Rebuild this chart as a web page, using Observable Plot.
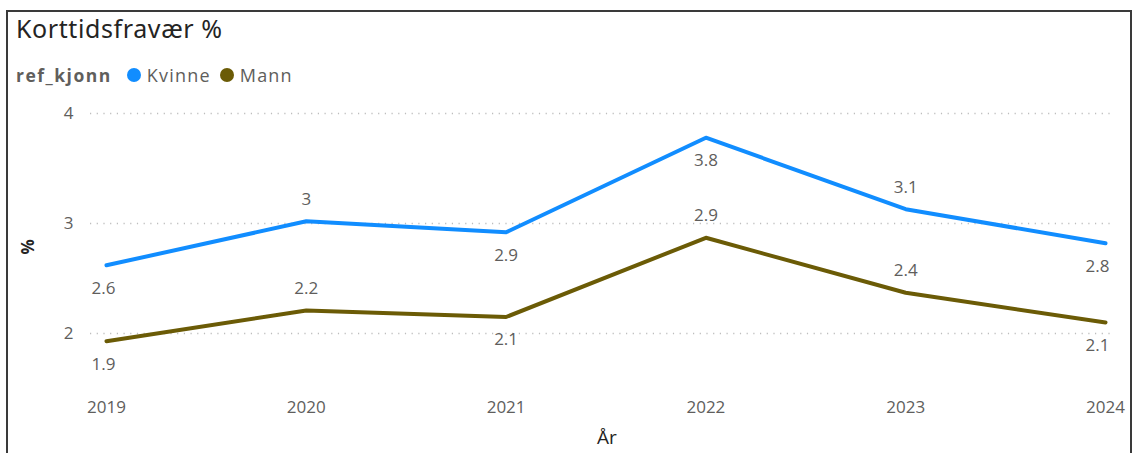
<!DOCTYPE html>
<html>
<head>
<meta charset="utf-8">
<script src="https://cdn.jsdelivr.net/npm/d3@7"></script>
<script src="https://cdn.jsdelivr.net/npm/@observablehq/plot@0.6"></script>
<style>
  html, body { margin: 0; padding: 0; background: #fff; }
  #wrap { position: relative; width: 1134px; height: 453px; overflow: hidden; font-family: "Open Sans", "Noto Sans", sans-serif; }
  #frame { position: absolute; left: 6px; top: 10px; width: 1126px; height: 460px; border: 2px solid #3a3a3a; box-sizing: border-box; }
  #title { position: absolute; left: 16px; top: 11px; font-size: 25px; letter-spacing: 0.6px; color: #252423; font-family: "Noto Sans", "Open Sans", sans-serif; }
  #legend { position: absolute; left: 16px; top: 63px; font-size: 18px; letter-spacing: 1.2px; color: #605E5C; display: flex; align-items: center; }
  #legend b { font-weight: 700; margin-right: 15px; color: #605E5C; font-size: 17.5px; letter-spacing: 1.5px; }
  .item { display: flex; align-items: center; margin-right: 9px; }
  .dot { width: 14px; height: 14px; border-radius: 50%; display: inline-block; margin-right: 6px; }
  #chart { position: absolute; left: 0; top: 90px; }
</style>
</head>
<body>
<div id="wrap">
  <div id="frame"></div>
  <div id="title">Korttidsfravær %</div>
  <div id="legend"></div>
  <div id="chart"></div>
</div>
<script>
const years = [2019, 2020, 2021, 2022, 2023, 2024];
const kvinne = [2.62, 3.02, 2.92, 3.78, 3.13, 2.82];
const mann = [1.93, 2.21, 2.15, 2.87, 2.37, 2.10];
const kvinneLabels = ["2.6", "3", "2.9", "3.8", "3.1", "2.8"];
const mannLabels = ["1.9", "2.2", "2.1", "2.9", "2.4", "2.1"];
const kvinneSide = ["below", "above", "below", "below", "above", "below"];
const mannSide = ["below", "above", "below", "above", "above", "below"];
const seriesNames = ["Kvinne", "Mann"];
const seriesColors = ["#118DFF", "#6B5B06"];
const yTicks = [2, 3, 4];
const legendTitle = "ref_kjonn";
const yLabel = "%";
const xLabel = "År";

const rows = [];
years.forEach((yr, i) => {
  rows.push({year: yr, value: kvinne[i], series: "Kvinne", label: kvinneLabels[i], side: kvinneSide[i], i});
  rows.push({year: yr, value: mann[i], series: "Mann", label: mannLabels[i], side: mannSide[i], i});
});

// legend
const leg = document.getElementById("legend");
leg.innerHTML = `<b>${legendTitle}</b>` + seriesNames.map((n, k) =>
  `<span class="item"><span class="dot" style="background:${seriesColors[k]}"></span>${n}</span>`).join("");

const last = years.length - 1;
const labelFont = {fill: "#605E5C", fontSize: 17, fontFamily: "Open Sans, Noto Sans, sans-serif"};
const labelMark = (side, dy, which, dx) => Plot.text(rows.filter(d => d.side === side && which(d.i)), {
  x: "year", y: "value", text: "label", dy, dx, ...labelFont
});

const chart = Plot.plot({
  width: 1134,
  height: 363,
  marginLeft: 90,
  marginRight: 21,
  marginTop: 1,
  marginBottom: 76,
  x: {type: "linear", domain: [2018.92, 2024.04]},
  y: {domain: [1.6, 4.2]},
  color: {domain: seriesNames, range: seriesColors},
  style: {fontFamily: "Open Sans, Noto Sans, sans-serif", fontSize: "17px", color: "#605E5C", background: "transparent"},
  marks: [
    Plot.ruleY(yTicks, {stroke: "#bdbdbd", strokeDasharray: "1.2,5.5", strokeWidth: 1.5}),
    Plot.axisY({ticks: yTicks, tickFormat: d => String(d), tickSize: 0, tickPadding: 17, label: null, fontSize: 17, fill: "#605E5C"}),
    Plot.axisX({ticks: years, tickFormat: d => String(d), tickSize: 0, tickPadding: 23, label: null, fontSize: 17, fill: "#605E5C"}),
    Plot.text([yLabel], {frameAnchor: "left", dx: -62, dy: 20, rotate: -90, fontSize: 17, fontWeight: "bold", fill: "#252423"}),
    Plot.text([xLabel], {frameAnchor: "bottom", dy: 66, dx: 5, fontSize: 19, fill: "#252423"}),
    Plot.line(rows, {x: "year", y: "value", stroke: "series", strokeWidth: 4, curve: "linear"}),
    labelMark("below", 23, i => i > 0 && i < last, 0),
    labelMark("above", -22, i => i > 0 && i < last, 0),
    labelMark("below", 23, i => i === 0, -3),
    labelMark("above", -22, i => i === 0, -3),
    labelMark("below", 23, i => i === last, -8),
    labelMark("above", -22, i => i === last, -8)
  ]
});
document.getElementById("chart").appendChild(chart);
</script>
</body>
</html>
